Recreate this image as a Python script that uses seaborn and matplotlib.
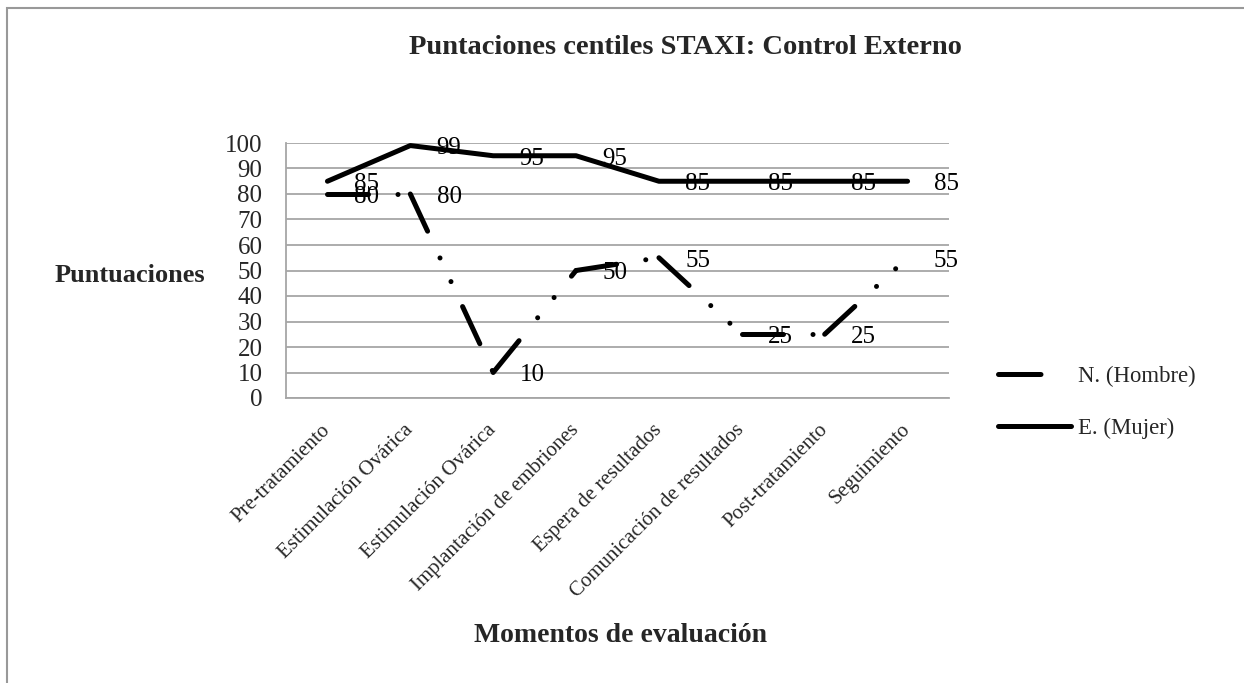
import matplotlib
matplotlib.use("Agg")
import matplotlib.pyplot as plt
from matplotlib.lines import Line2D
from matplotlib.patches import Rectangle
import seaborn as sns
import pandas as pd

# ---- data ----
categories = ["Pre-tratamiento", "Estimulación Ovárica", "Estimulación Ovárica",
              "Implantación de embriones", "Espera de resultados",
              "Comunicación de resultados", "Post-tratamiento", "Seguimiento"]
hombre = [80, 80, 10, 50, 55, 25, 25, 55]
mujer = [85, 99, 95, 95, 85, 85, 85, 85]
series_names = ["N. (Hombre)", "E. (Mujer)"]
title = "Puntaciones centiles STAXI: Control Externo"
ylabel = "Puntuaciones"
xlabel = "Momentos de evaluación"
yticks = [0, 10, 20, 30, 40, 50, 60, 70, 80, 90, 100]

sns.set_style("white")
plt.rcParams["font.family"] = ["Liberation Serif", "DejaVu Serif"]

fig = plt.figure(figsize=(12.44, 6.83), dpi=100)
ax = fig.add_axes([286 / 1244, 1 - 398 / 683, (949 - 286) / 1244, (398 - 143) / 683])

grid_col = "#a6a6a6"
lw = 3.6
dash_pattern = (0, (8.2, 5.9, 0.01, 5.2, 0.01, 5.5))

xs = list(range(len(categories)))

# solid series
df_m = pd.DataFrame({"x": xs, "y": mujer})
sns.lineplot(data=df_m, x="x", y="y", ax=ax, color="black", linewidth=lw,
             solid_capstyle="round", solid_joinstyle="round", zorder=3)

# dashed series: one piece per segment so the dash pattern restarts at each point
rows = []
for i in range(len(hombre) - 1):
    rows.append({"x": xs[i], "y": hombre[i], "seg": i})
    rows.append({"x": xs[i + 1], "y": hombre[i + 1], "seg": i})
df_h = pd.DataFrame(rows)
sns.lineplot(data=df_h, x="x", y="y", units="seg", estimator=None, ax=ax,
             color="black", linewidth=lw, linestyle=dash_pattern,
             dash_capstyle="round", zorder=3)

# data labels
for xi, v in zip(xs, mujer):
    ax.annotate(str(v), (xi, v), xytext=(19, -2), textcoords="offset points",
                ha="left", va="center", fontsize=18, color="black", zorder=4)
for xi, v in zip(xs, hombre):
    ax.annotate(str(v), (xi, v), xytext=(19, -2), textcoords="offset points",
                ha="left", va="center", fontsize=18, color="black", zorder=4)

ax.set_xlim(-0.5, len(categories) - 0.5)
ax.set_ylim(0, 100)
ax.set_yticks(yticks)
ax.set_yticklabels([str(t) for t in yticks], fontsize=18)
ax.set_xticks(xs)
ax.set_xticklabels(categories, fontsize=15, rotation=45, ha="right", va="center",
                   rotation_mode="anchor")
ax.set_xticks([i - 0.5 for i in range(len(categories) + 1)], minor=True)
ax.tick_params(axis="x", which="major", length=0, pad=21)
ax.tick_params(axis="x", which="minor", length=6, width=1.2, color=grid_col, direction="out")
ax.tick_params(axis="y", which="major", length=7, width=1.2, color=grid_col,
               direction="out", pad=10)
ax.yaxis.grid(True, color=grid_col, linewidth=1.3)
ax.xaxis.grid(False)
ax.set_xlabel("")
ax.set_ylabel("")
for s in ["top", "right"]:
    ax.spines[s].set_visible(False)
for s in ["left", "bottom"]:
    ax.spines[s].set_color(grid_col)
    ax.spines[s].set_linewidth(1.3)

# legend
handles = [Line2D([], [], color="black", linewidth=lw, linestyle=(0, (8.5, 30)),
                  dash_capstyle="round"),
           Line2D([], [], color="black", linewidth=lw, solid_capstyle="round")]
fig.legend(handles, series_names, loc="center left",
           bbox_to_anchor=(998 / 1244, 1 - 402 / 683), frameon=False,
           fontsize=16.4, handlelength=3.2, handletextpad=0.3, labelspacing=1.35,
           borderpad=0, borderaxespad=0)

# texts
fig.text(685 / 1244, 1 - 48 / 683, title, ha="center", va="center",
         fontsize=20.5, fontweight="bold")
fig.text(130 / 1244, 1 - 275 / 683, ylabel, ha="center", va="center",
         fontsize=19, fontweight="bold")
fig.text(620 / 1244, 1 - 635 / 683, xlabel, ha="center", va="center",
         fontsize=20, fontweight="bold")

# outer frame (left and top edges visible)
fig.patches.append(Rectangle((7 / 1244, -0.2), 1.5, 1.2 - 8 / 683,
                             transform=fig.transFigure, fill=False,
                             edgecolor="#999999", linewidth=1.5))

fig.savefig("out.png", dpi=100)
